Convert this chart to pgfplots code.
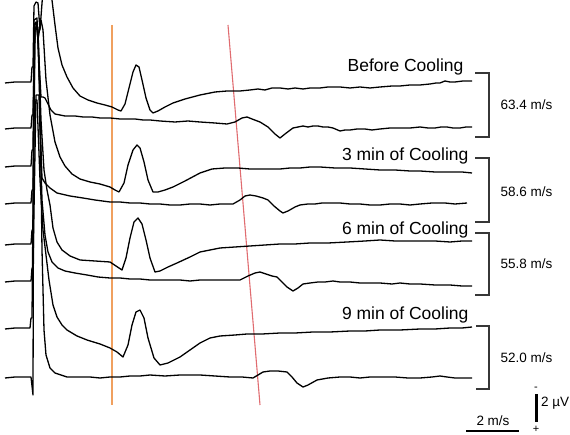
\documentclass[border=0pt]{standalone}
\usepackage{pgfplots}
\pgfplotsset{compat=1.18}
\usepackage{fontspec}
\setmainfont{Liberation Sans}
\definecolor{cutorange}{RGB}{240,160,95}
\definecolor{cutred}{RGB}{224,108,112}
\definecolor{brk}{RGB}{55,55,55}
\pgfplotsset{
  tr/.style={draw=black, line width=1.3pt, line join=round, mark=none, solid},
  br/.style={draw=brk, line width=1.3pt, mark=none, solid},
}
\begin{document}
\begin{tikzpicture}
\begin{axis}[
  scale only axis, width=570pt, height=435pt,
  xmin=0, xmax=570, ymin=0, ymax=435, y dir=reverse,
  hide axis, clip=true,
]
% latency markers
\addplot[draw=cutorange, line width=1.1pt, mark=none] coordinates {(112,25) (112,405)};
\addplot[draw=cutred, line width=1.1pt, mark=none] coordinates {(228,25) (260,405)};

% Before cooling, near
\addplot[tr] coordinates {(5,83) (15,82) (25,82) (31,82) (32,67) (33,67) (34,6) (36,2) (38,3) (40,30) (43,-10) (51,-10) (52,0) (55,25) (58,48) (62,65) (67,77) (73,88) (80,96) (88,100) (97,103) (105,105) (112,107) (118,110) (121,111) (125,104) (129,88) (133,72) (136,65) (139,67) (142,80) (146,98) (150,110) (153,113) (158,111) (165,107) (173,103) (185,99) (200,95) (215,92) (227,91) (240,91) (250,90) (258,89) (265,90) (272,88) (280,88) (288,89) (295,88) (303,89) (310,88) (320,88) (328,87) (340,87) (350,88) (360,87) (370,88) (380,87) (392,86) (400,86) (410,85) (420,85) (430,84) (436,83) (440,83) (445,81) (450,82) (455,82) (463,81) (472,81)};
% Before cooling, far
\addplot[tr] coordinates {(5,129) (15,128) (25,128) (31,128) (32,115) (33,115) (35,25) (37,22) (39,60) (41,97) (43,97) (45,98) (47,102) (51,110) (55,114) (65,116) (75,116) (83,117) (92,117) (100,118) (110,118) (120,119) (135,119) (143,120) (150,120) (160,121) (175,122) (188,121) (200,122) (215,123) (227,124) (235,122) (242,118) (247,117) (252,119) (260,122) (268,127) (275,134) (280,138) (285,134) (293,128) (298,127) (303,126) (308,127) (313,126) (318,126) (323,127) (328,127) (333,128) (340,131) (345,130) (350,130) (357,129) (365,129) (372,130) (380,129) (390,128) (400,128) (410,128) (420,127) (428,128) (435,128) (441,127) (447,127) (453,128) (460,128) (466,127) (472,127)};
% 3 min, near
\addplot[tr] coordinates {(5,167) (15,166) (25,166) (31,166) (32,150) (33,150) (34,25) (36,22) (38,40) (41,20) (43,30) (46,80) (50,115) (55,142) (60,157) (65,166) (72,174) (80,179) (90,182) (100,184) (110,187) (115,190) (119,192) (124,183) (128,165) (133,150) (137,145) (140,148) (144,162) (148,180) (153,192) (158,192) (165,190) (173,187) (185,181) (200,173) (212,169) (225,168) (238,168) (250,169) (265,169) (280,169) (290,168) (300,168) (310,167) (320,167) (335,168) (350,168) (365,169) (380,170) (395,170) (410,171) (420,171) (435,172) (450,172) (462,172) (472,173)};
% 3 min, far
\addplot[tr] coordinates {(5,204) (15,203) (25,203) (31,203) (32,190) (33,190) (35,27) (38,27) (40,120) (42,178) (45,183) (50,188) (57,193) (70,196) (83,198) (95,200) (110,202) (120,202) (130,203) (140,203) (150,204) (160,204) (170,205) (180,205) (190,204) (200,204) (210,205) (220,204) (233,204) (240,200) (245,196) (250,195) (256,196) (263,198) (268,200) (274,206) (280,211) (283,213) (288,211) (295,207) (300,205) (308,204) (315,204) (322,203) (330,203) (340,203) (350,204) (360,204) (370,205) (380,205) (390,204) (400,204) (410,205) (420,204) (432,203) (445,203) (455,204) (467,203)};
% 6 min, near
\addplot[tr] coordinates {(5,245) (15,244) (25,244) (31,244) (32,230) (33,230) (35,28) (38,30) (41,120) (44,170) (47,190) (50,205) (53,228) (57,242) (62,250) (70,256) (80,260) (95,261) (110,262) (116,266) (122,270) (126,258) (130,238) (134,222) (138,218) (142,224) (146,240) (150,258) (155,272) (160,271) (168,267) (177,263) (190,257) (200,252) (210,250) (220,248) (235,247) (250,246) (265,245) (280,244) (295,244) (310,243) (328,243) (347,242) (365,241) (380,240) (395,241) (410,241) (420,241) (435,241) (450,242) (462,241) (472,241)};
% 6 min, far
\addplot[tr] coordinates {(5,282) (15,281) (25,281) (31,281) (32,268) (33,268) (36,95) (39,95) (42,200) (45,235) (48,252) (52,262) (58,268) (65,271) (75,273) (87,275) (98,277) (110,278) (120,278) (130,279) (140,279) (150,280) (165,280) (180,280) (190,281) (200,280) (215,280) (230,280) (240,280) (248,276) (255,273) (260,272) (266,274) (272,276) (277,277) (282,282) (287,287) (293,291) (298,288) (303,284) (310,283) (318,282) (325,282) (333,281) (340,282) (350,282) (360,283) (370,283) (380,283) (392,284) (400,283) (410,284) (420,284) (435,285) (450,285) (462,286) (472,286)};
% 9 min, near
\addplot[tr] coordinates {(5,329) (15,328) (25,328) (30,328) (31,318) (32,318) (34,100) (37,100) (40,180) (43,230) (46,255) (49,280) (53,305) (57,317) (62,325) (67,330) (77,336) (87,340) (100,344) (110,348) (117,352) (123,357) (128,345) (132,325) (136,312) (140,310) (144,318) (148,338) (154,358) (160,365) (168,363) (180,357) (190,350) (200,343) (210,338) (220,336) (235,335) (247,334) (262,334) (280,333) (295,333) (313,332) (330,332) (350,331) (365,331) (380,330) (400,330) (420,329) (435,329) (450,328) (462,328) (472,327)};
% 9 min, far
\addplot[tr] coordinates {(5,378) (15,377) (25,377) (31,377) (33,395) (34,20) (37,18) (40,100) (42,250) (44,330) (46,355) (50,368) (55,373) (67,377) (78,377) (90,377) (100,378) (110,377) (120,377) (130,376) (140,376) (150,375) (165,376) (180,375) (190,375) (200,375) (215,376) (230,377) (242,377) (253,378) (258,375) (263,372) (270,371) (278,371) (287,372) (292,377) (297,383) (303,387) (308,385) (317,380) (328,378) (340,377) (350,377) (360,378) (370,377) (380,377) (395,377) (408,378) (420,378) (432,377) (440,376) (447,377) (455,378) (463,378) (472,378)};

% brackets
\addplot[br] coordinates {(475,73) (489,73) (489,137) (475,137)};
\addplot[br] coordinates {(475,158) (489,158) (489,222) (475,222)};
\addplot[br] coordinates {(475,233) (489,233) (489,295) (475,295)};
\addplot[br] coordinates {(476,326) (489,326) (489,389) (476,389)};

% scale bars
\addplot[draw=black, line width=1.8pt, mark=none] coordinates {(466,431) (519,431)};
\addplot[draw=black, line width=3pt, mark=none] coordinates {(536,394) (536,422)};

\node[anchor=base east, font=\fontsize{17.5}{20}\selectfont] at (axis cs:467,72) {Before Cooling};
\node[anchor=base east, font=\fontsize{17.5}{20}\selectfont] at (axis cs:472,161) {3 min of Cooling};
\node[anchor=base east, font=\fontsize{17.5}{20}\selectfont] at (axis cs:472,235) {6 min of Cooling};
\node[anchor=base east, font=\fontsize{17.5}{20}\selectfont] at (axis cs:472,320) {9 min of Cooling};
\node[anchor=west, font=\fontsize{13.5}{15}\selectfont] at (axis cs:497,105) {63.4 m/s};
\node[anchor=west, font=\fontsize{13.5}{15}\selectfont] at (axis cs:497,192) {58.6 m/s};
\node[anchor=west, font=\fontsize{13.5}{15}\selectfont] at (axis cs:497,264) {55.8 m/s};
\node[anchor=west, font=\fontsize{13.5}{15}\selectfont] at (axis cs:497,358) {52.0 m/s};
\node[anchor=base, font=\fontsize{13.5}{15}\selectfont] at (axis cs:493,425) {2 m/s};
\node[anchor=west, inner sep=0pt, font=\fontsize{13.5}{15}\selectfont] at (axis cs:541,403) {2 µV};
\node[font=\fontsize{11}{12}\selectfont, inner sep=0pt] at (axis cs:536,389) {-};
\node[font=\fontsize{11}{12}\selectfont, inner sep=0pt] at (axis cs:536,429) {+};
\end{axis}
\pgfresetboundingbox
\path[use as bounding box] (current axis.south west) rectangle (current axis.north east);
\end{tikzpicture}
\end{document}
